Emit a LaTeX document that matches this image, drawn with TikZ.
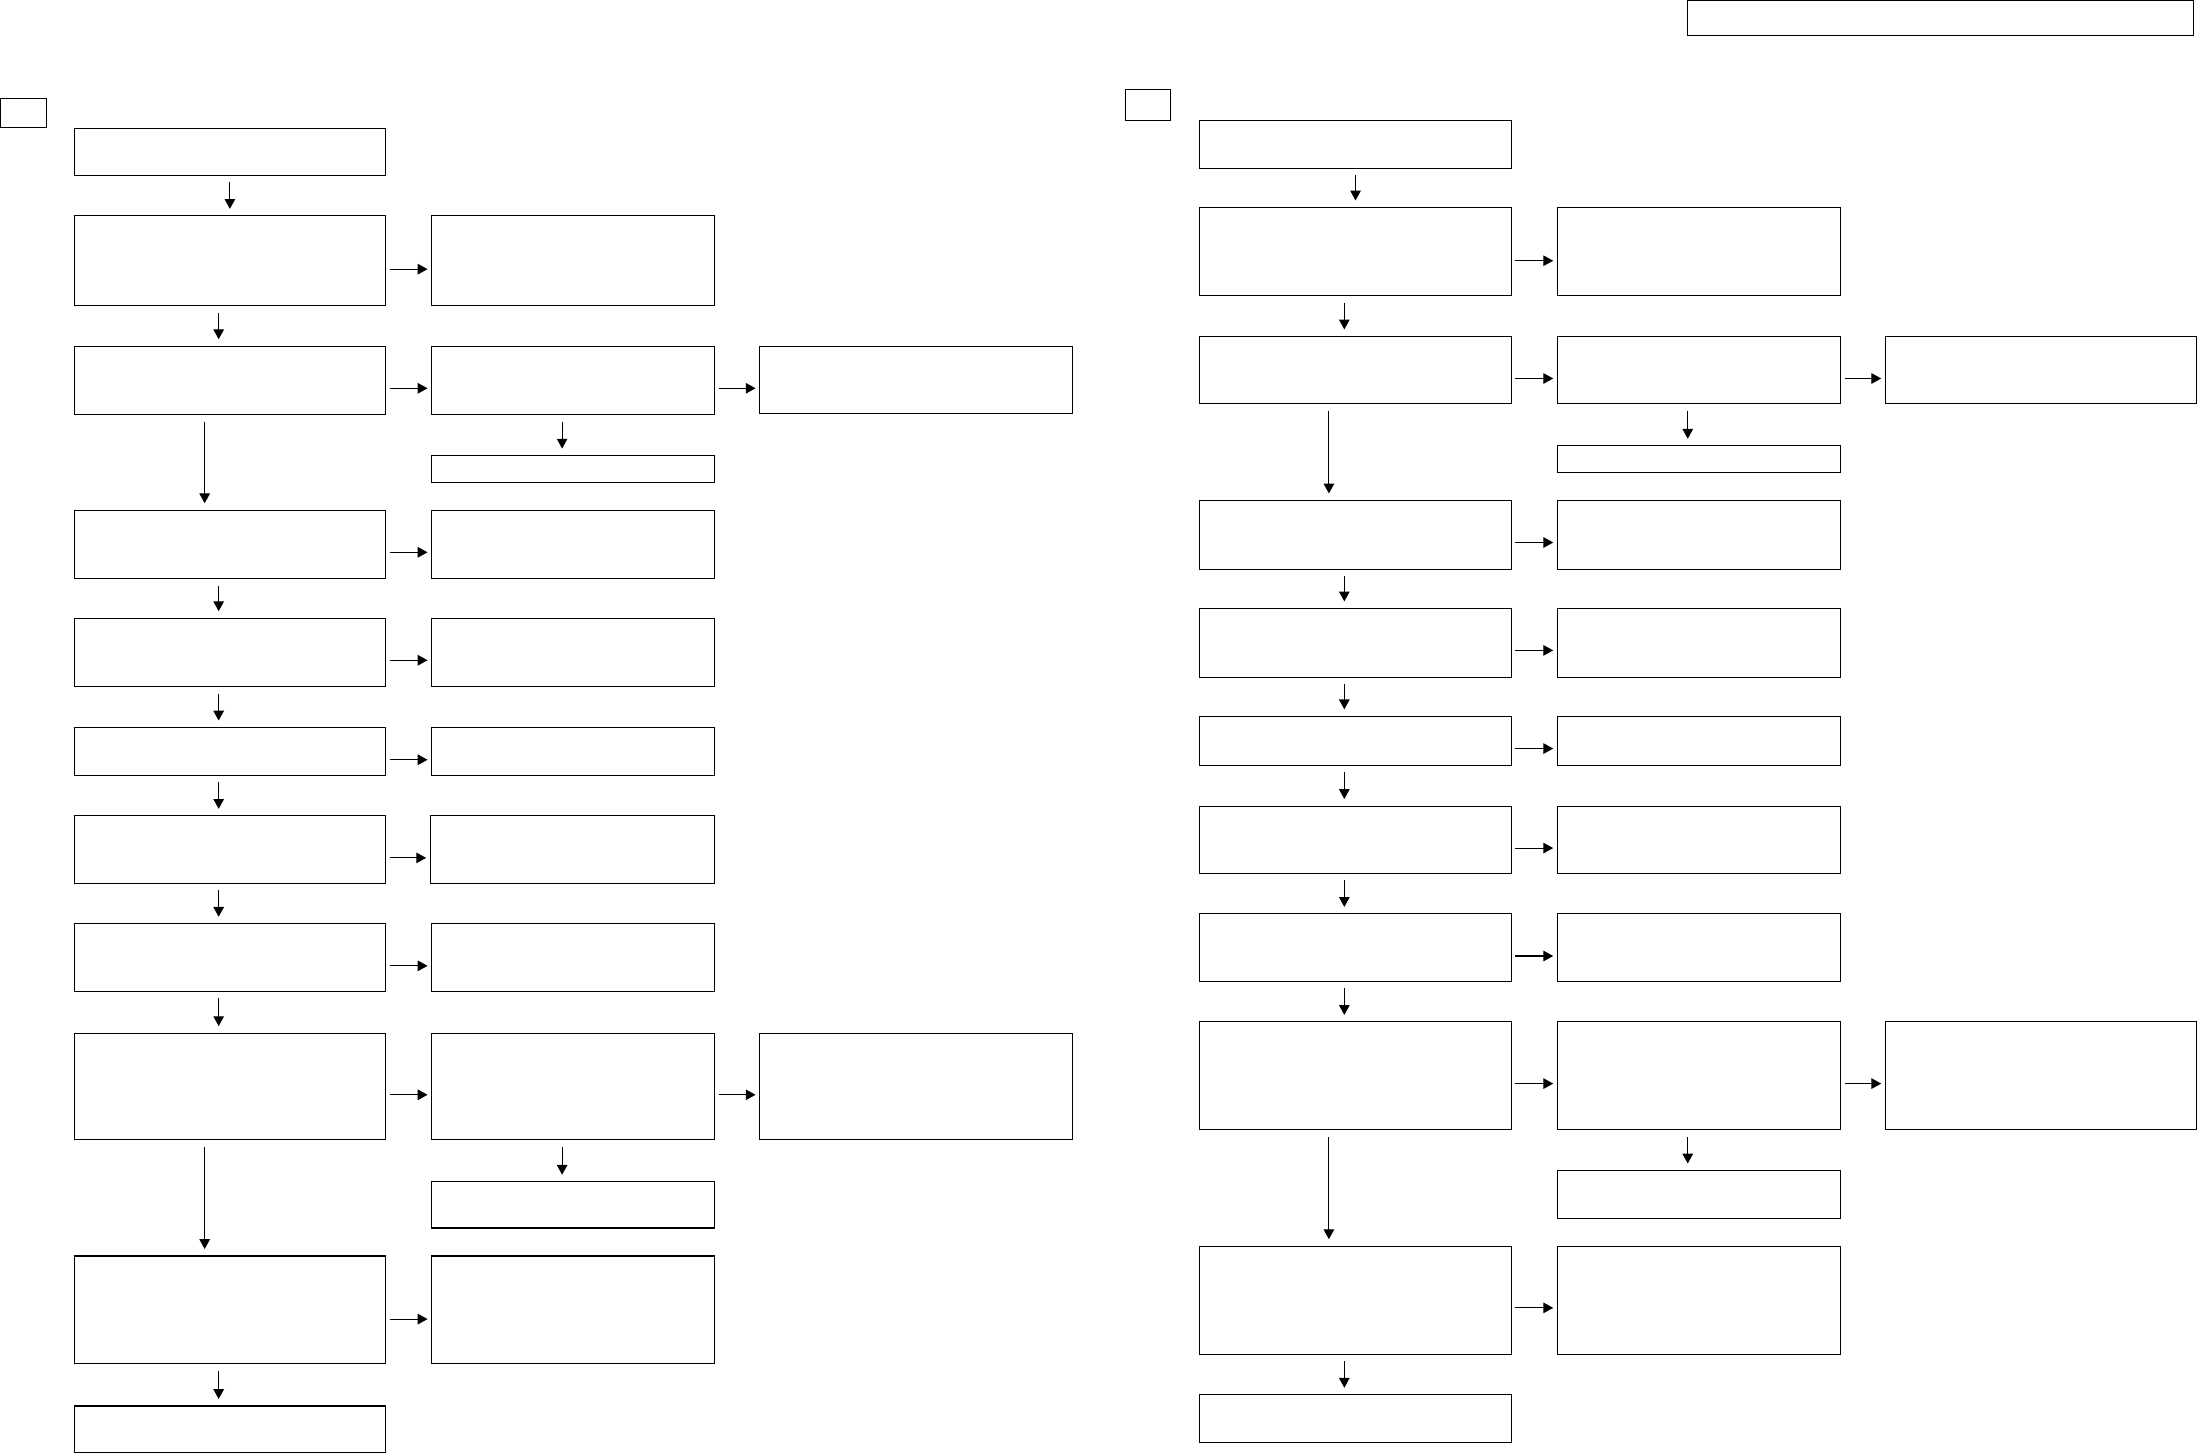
\documentclass[tikz,border=0pt]{standalone}
\usetikzlibrary{arrows.meta}
\newcommand{\mybox}[5]{\node[box,anchor=north west,minimum width={#4pt-#2pt},minimum height={#5pt-#3pt}] (#1) at (#2,#3) {};}
\tikzset{
  box/.style={draw,line width=0.75pt,inner sep=0pt,outer sep=0pt,fill=none},
  varr/.style={line width=0.75pt,-{Triangle[length=7pt,width=7.5pt]},shorten <=5pt,shorten >=5pt},
  harr/.style={line width=0.75pt,-{Triangle[length=7pt,width=7.5pt]},shorten <=3pt,shorten >=3pt}
}
\begin{document}
\begin{tikzpicture}[x=1pt,y=-1pt]
\useasboundingbox[fill=white] (0,0) rectangle (1568,1037.3);
% top right box
\mybox{T}{1204}{0.5}{1565}{25}
% ---------------- left column ----------------
\mybox{Ls}{0.5}{70}{33}{91}
\mybox{L1}{53}{92}{275}{125}
\mybox{L2}{53}{154}{275}{218}
\mybox{LB2}{308}{154}{510}{218}
\mybox{L3}{53}{247}{275}{296}
\mybox{LB3}{308}{247}{510}{296}
\mybox{LC3}{542}{247}{765}{295}
\mybox{LB3a}{308}{325}{510}{344}
\mybox{L4}{53}{364}{275}{413}
\mybox{LB4}{308}{364}{510}{413}
\mybox{L5}{53}{441}{275}{490}
\mybox{LB5}{308}{441}{510}{490}
\mybox{L6}{53}{519}{275}{553}
\mybox{LB6}{308}{519}{510}{553}
\mybox{L7}{53}{582}{275}{630}
\mybox{LB7}{307}{582}{510}{630}
\mybox{L8}{53}{659}{275}{707}
\mybox{LB8}{308}{659}{510}{707}
\mybox{L9}{53}{737}{275}{813}
\mybox{LB9}{308}{737}{510}{813}
\mybox{LC9}{542}{737}{765}{813}
\mybox{LB9a}{308}{843}{510}{876}
\mybox{L10}{53}{896}{275}{973}
\mybox{LB10}{308}{896}{510}{973}
\mybox{L11}{53}{1003}{275}{1036}
% vertical arrows
\draw[varr] (L1.south) -- (L2.north);
\draw[varr] ([xshift=-8pt]L2.south) -- ([xshift=-8pt]L3.north);
\draw[varr] ([xshift=-18pt]L3.south) -- ([xshift=-18pt]L4.north);
\draw[varr] ([xshift=-8pt]LB3.south) -- ([xshift=-8pt]LB3a.north);
\draw[varr] ([xshift=-8pt]L4.south) -- ([xshift=-8pt]L5.north);
\draw[varr] ([xshift=-8pt]L5.south) -- ([xshift=-8pt]L6.north);
\draw[varr] ([xshift=-8pt]L6.south) -- ([xshift=-8pt]L7.north);
\draw[varr] ([xshift=-8pt]L7.south) -- ([xshift=-8pt]L8.north);
\draw[varr] ([xshift=-8pt]L8.south) -- ([xshift=-8pt]L9.north);
\draw[varr] ([xshift=-8pt]LB9.south) -- ([xshift=-8pt]LB9a.north);
\draw[varr] ([xshift=-18pt]L9.south) -- ([xshift=-18pt]L10.north);
\draw[varr] ([xshift=-8pt]L10.south) -- ([xshift=-8pt]L11.north);
% horizontal arrows
\draw[harr] ([yshift=-6pt]L2.east) -- ([yshift=-6pt]LB2.west);
\draw[harr] ([yshift=-5.5pt]L3.east) -- ([yshift=-5.5pt]LB3.west);
\draw[harr] ([yshift=-5.5pt]LB3.east) -- ([yshift=-6pt]LC3.west);
\draw[harr] ([yshift=-5.5pt]L4.east) -- ([yshift=-5.5pt]LB4.west);
\draw[harr] ([yshift=-5.5pt]L5.east) -- ([yshift=-5.5pt]LB5.west);
\draw[harr] ([yshift=-6pt]L6.east) -- ([yshift=-6pt]LB6.west);
\draw[harr] ([yshift=-6pt]L7.east) -- ([yshift=-6pt]LB7.west);
\draw[harr] ([yshift=-6pt]L8.east) -- ([yshift=-6pt]LB8.west);
\draw[harr] ([yshift=-6pt]L9.east) -- ([yshift=-6pt]LB9.west);
\draw[harr] ([yshift=-6pt]LB9.east) -- ([yshift=-6pt]LC9.west);
\draw[harr] ([yshift=-6.5pt]L10.east) -- ([yshift=-6.5pt]LB10.west);
% ---------------- right column ----------------
\mybox{Rs}{803}{64}{835}{86}
\mybox{R1}{856}{86}{1078}{120}
\mybox{R2}{856}{148}{1078}{211}
\mybox{RB2}{1111}{148}{1313}{211}
\mybox{R3}{856}{240}{1078}{288}
\mybox{RB3}{1111}{240}{1313}{288}
\mybox{RC3}{1345}{240}{1567}{288}
\mybox{RB3a}{1111}{318}{1313}{337}
\mybox{R4}{856}{357}{1078}{406}
\mybox{RB4}{1111}{357}{1313}{406}
\mybox{R5}{856}{434}{1078}{483}
\mybox{RB5}{1111}{434}{1313}{483}
\mybox{R6}{856}{511}{1078}{546}
\mybox{RB6}{1111}{511}{1313}{546}
\mybox{R7}{856}{575}{1078}{623}
\mybox{RB7}{1111}{575}{1313}{623}
\mybox{R8}{856}{652}{1078}{700}
\mybox{RB8}{1111}{652}{1313}{700}
\mybox{R9}{856}{729}{1078}{806}
\mybox{RB9}{1111}{729}{1313}{806}
\mybox{RC9}{1345}{729}{1567}{806}
\mybox{RB9a}{1111}{835}{1313}{869}
\mybox{R10}{856}{889}{1078}{966}
\mybox{RB10}{1111}{889}{1313}{966}
\mybox{R11}{856}{995}{1078}{1029}
% vertical arrows
\draw[varr] (R1.south) -- (R2.north);
\draw[varr] ([xshift=-8pt]R2.south) -- ([xshift=-8pt]R3.north);
\draw[varr] ([xshift=-19pt]R3.south) -- ([xshift=-19pt]R4.north);
\draw[varr] ([xshift=-8pt]RB3.south) -- ([xshift=-8pt]RB3a.north);
\draw[varr] ([xshift=-8pt]R4.south) -- ([xshift=-8pt]R5.north);
\draw[varr] ([xshift=-8pt]R5.south) -- ([xshift=-8pt]R6.north);
\draw[varr] ([xshift=-8pt]R6.south) -- ([xshift=-8pt]R7.north);
\draw[varr] ([xshift=-8pt]R7.south) -- ([xshift=-8pt]R8.north);
\draw[varr] ([xshift=-8pt]R8.south) -- ([xshift=-8pt]R9.north);
\draw[varr] ([xshift=-8pt]RB9.south) -- ([xshift=-8pt]RB9a.north);
\draw[varr] ([xshift=-19pt]R9.south) -- ([xshift=-19pt]R10.north);
\draw[varr] ([xshift=-8pt]R10.south) -- ([xshift=-8pt]R11.north);
% horizontal arrows
\draw[harr] ([yshift=-6.5pt]R2.east) -- ([yshift=-6.5pt]RB2.west);
\draw[harr] ([yshift=-6pt]R3.east) -- ([yshift=-6pt]RB3.west);
\draw[harr] ([yshift=-6pt]RB3.east) -- ([yshift=-6pt]RC3.west);
\draw[harr] ([yshift=-5.5pt]R4.east) -- ([yshift=-5.5pt]RB4.west);
\draw[harr] ([yshift=-5.5pt]R5.east) -- ([yshift=-5.5pt]RB5.west);
\draw[harr] ([yshift=-5.5pt]R6.east) -- ([yshift=-5.5pt]RB6.west);
\draw[harr] ([yshift=-6pt]R7.east) -- ([yshift=-6pt]RB7.west);
\draw[harr] ([yshift=-6pt]R8.east) -- ([yshift=-6pt]RB8.west);
\draw[harr] ([yshift=-5.5pt]R9.east) -- ([yshift=-5.5pt]RB9.west);
\draw[harr] ([yshift=-5.5pt]RB9.east) -- ([yshift=-5.5pt]RC9.west);
\draw[harr] ([yshift=-5.5pt]R10.east) -- ([yshift=-5.5pt]RB10.west);
\end{tikzpicture}
\end{document}
